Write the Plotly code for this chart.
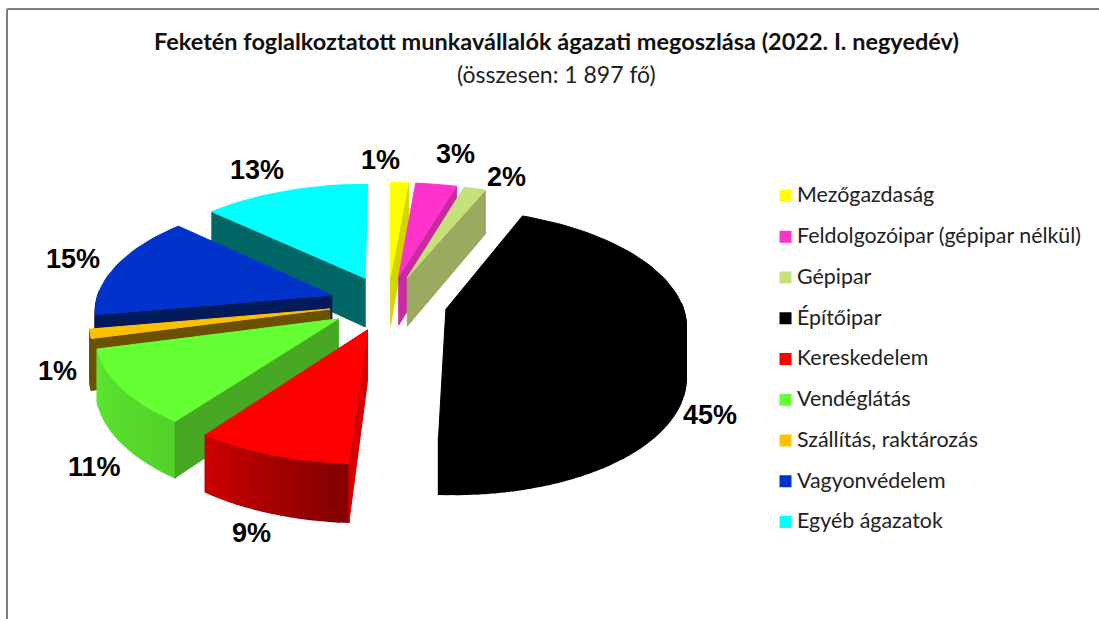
import math
import plotly.graph_objects as go

categories = ["Mezőgazdaság", "Feldolgozóipar (gépipar nélkül)", "Gépipar", "Építőipar",
              "Kereskedelem", "Vendéglátás", "Szállítás, raktározás", "Vagyonvédelem", "Egyéb ágazatok"]
shares = [1.4, 3.2, 1.7, 44.6, 9.2, 10.8, 1.3, 14.8, 13.0]
top_colors = ["#FFFF00", "#FF33CC", "#C6E07A", "#000000", "#FF0000", "#66FF33", "#FFC000", "#0033CC", "#00FFFF"]
wall_colors = ["#D4D400", "#C82AA0", "#9AAA60", "#000000", "#D40000", "#46A823", "#6B5000", "#001A5C", "#006666"]
rim_shades = [(0.8, 0.8), (0.8, 0.8), (0.75, 0.75), (1, 1), (0.5, 0.8), (0.82, 0.9), (0.42, 0.42), (0.35, 0.35), (0.4, 0.4)]
label_pos = [(380, 160), (455, 154), (506, 177), (710, 415), (251, 533), (94, 467), (57, 371), (73, 259), (257, 170)]

CX, CY, R, K, P, EXPLODE, DEPTH = 388, 303, 236, 0.47, 0.12, 0.25, 50
LEGEND_X, LEGEND_Y0, LEGEND_STEP = 785.5, 196, 40.75


def project(u, v, drop=0.0):
    f = 1 / (1 + P * v)
    return CX + R * u * f, CY - R * K * v * f + drop * f


def shade_hex(color, s):
    r, g, b = (int(color[i:i + 2], 16) for i in (1, 3, 5))
    return f"rgb({r * s:.0f},{g * s:.0f},{b * s:.0f})"


def poly(points, color, width=1):
    return go.Scatter(x=[p[0] for p in points] + [points[0][0]], y=[p[1] for p in points] + [points[0][1]],
                      mode="lines", fill="toself", fillcolor=color, line=dict(color=color, width=width),
                      hoverinfo="skip", showlegend=False)


fig = go.Figure()
total = sum(shares)
slices, cum = [], 0.0
for i, s in enumerate(shares):
    a0, a1 = cum / total * 360, (cum + s) / total * 360
    cum += s
    slices.append((i, a0, a1))

for i, a0, a1 in sorted(slices, key=lambda t: -math.cos(math.radians((t[1] + t[2]) / 2))):
    mid = math.radians((a0 + a1) / 2)
    ox, oy = EXPLODE * math.sin(mid), EXPLODE * math.cos(mid)

    def ground(deg):
        t = math.radians(deg)
        return ox + math.sin(t), oy + math.cos(t)

    n = max(2, int((a1 - a0) / 2))
    degs = [a0 + (a1 - a0) * j / n for j in range(n + 1)]
    apex = (ox, oy)
    # outer wall first, then whichever radial wall faces the viewer, then the top face
    for j, (d0, d1) in enumerate(zip(degs, degs[1:])):
        g0, g1 = ground(d0), ground(d1)
        if (g0[1] + g1[1]) / 2 - oy < 0.05:
            s0, s1 = rim_shades[i]
            fig.add_trace(poly([project(*g0), project(*g1), project(*g1, DEPTH), project(*g0, DEPTH)],
                               shade_hex(top_colors[i], s0 + (s1 - s0) * (j + 0.5) / n), width=1.5))
    for edge, visible in ((a0, math.sin(math.radians(a0)) < 0), (a1, math.sin(math.radians(a1)) > 0)):
        if visible:
            g = ground(edge)
            fig.add_trace(poly([project(*apex), project(*g), project(*g, DEPTH), project(*apex, DEPTH)], wall_colors[i]))
    fig.add_trace(poly([project(*apex)] + [project(*ground(d)) for d in degs], top_colors[i]))

for j, (name, color) in enumerate(zip(categories, top_colors)):
    y = LEGEND_Y0 + j * LEGEND_STEP
    fig.add_trace(go.Scatter(x=[LEGEND_X], y=[y], mode="markers", name=name, showlegend=False, hoverinfo="skip",
                             marker=dict(symbol="square", size=12, color=color)))
    fig.add_trace(go.Scatter(x=[LEGEND_X + 11.5], y=[y + 1], mode="text", text=[name], textposition="middle right",
                             showlegend=False, hoverinfo="skip",
                             textfont=dict(family="Lato", size=21.4, color="#222222")))

for s, (x, y) in zip(shares, label_pos):
    fig.add_annotation(x=x, y=y, text=f"<b>{round(s)}%</b>", showarrow=False,
                       font=dict(family="Liberation Sans", size=27, color="#000000"))

fig.add_annotation(x=556, y=41, text="<b>Feketén foglalkoztatott munkavállalók ágazati megoszlása (2022. I. negyedév)</b>",
                   showarrow=False, font=dict(family="Lato", size=23.5, color="#111111"))
fig.add_annotation(x=556, y=74, text="(összesen: 1 897 fő)", showarrow=False,
                   font=dict(family="Lato", size=23, color="#222222"))

fig.add_shape(type="line", x0=7, x1=7, y0=9, y1=619, line=dict(color="#808080", width=2))
fig.add_shape(type="line", x0=7, x1=1099, y0=9, y1=9, line=dict(color="#808080", width=2))

fig.update_layout(
    width=1099, height=619, margin=dict(l=0, r=0, t=0, b=0), paper_bgcolor="white", plot_bgcolor="white",
    xaxis=dict(range=[0, 1099], visible=False, fixedrange=True),
    yaxis=dict(range=[619, 0], visible=False, fixedrange=True),
    showlegend=False, hovermode=False,
)
fig.write_html("out.html", config={"displayModeBar": False},
               post_script="document.body.style.margin='0';document.body.style.overflow='hidden';")
